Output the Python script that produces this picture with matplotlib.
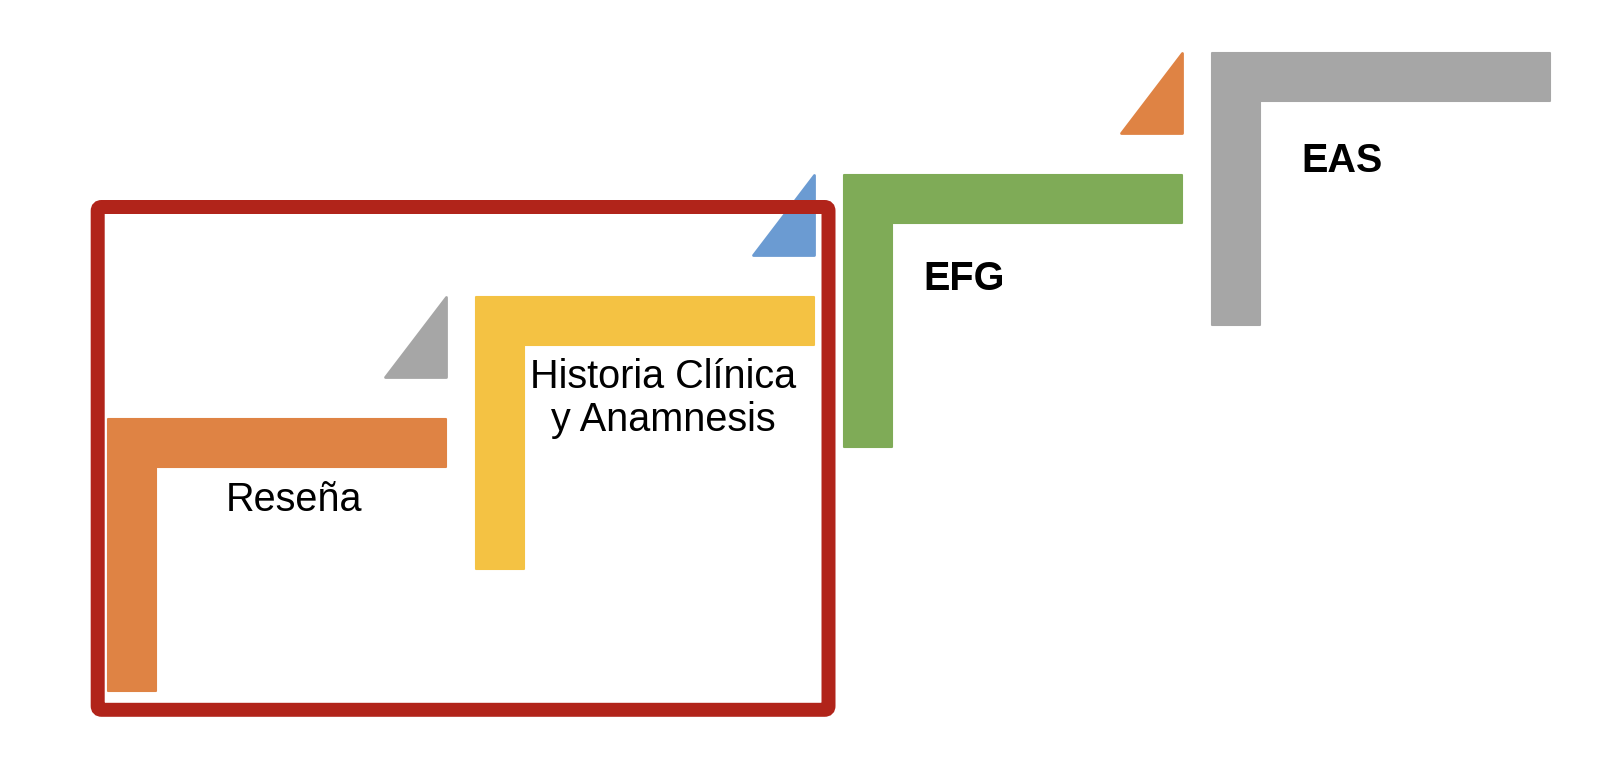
import matplotlib
matplotlib.use('Agg')
import matplotlib.pyplot as plt
from matplotlib.patches import Polygon, FancyBboxPatch

plt.rcParams['font.family'] = ['Liberation Sans', 'DejaVu Sans']

# Steps of the process (bottom-left to top-right)
labels = ['Reseña', 'Historia Clínica\ny Anamnesis', 'EFG', 'EAS']
bold = [False, False, True, True]
step_colors = ['#DF8344', '#F4C243', '#7FAB57', '#A6A6A6']
# Small triangles sitting between two steps
arrow_colors = ['#A6A6A6', '#6B9BD2', '#DF8344']
highlight = [0, 1]  # steps inside the red frame
frame_color = '#B1241A'

# Layout (pixels)
x_start, y_start = 107.5, 418.3
dx, dy = 368, -122
w, h, t = 339, 273.5, 49
tri_w, tri_h = 62, 81
# label anchor (centre x, baseline of last line) relative to step corner
label_off = [(186.5, 92.4), (187.5, 134.7), (120.5, 115.7), (130.5, 119.4)]

fig = plt.figure(figsize=(16.16, 7.57), dpi=100)
ax = fig.add_axes([0, 0, 1, 1])
ax.set_xlim(0, 1616)
ax.set_ylim(757, 0)
ax.axis('off')

pad = 0.75
origins = []
for i, (lab, col) in enumerate(zip(labels, step_colors)):
    x0 = x_start + i * dx
    y0 = y_start + i * dy
    origins.append((x0, y0))
    pts = [(x0 + pad, y0 + pad), (x0 + w - pad, y0 + pad), (x0 + w - pad, y0 + t - pad),
           (x0 + t - pad, y0 + t - pad), (x0 + t - pad, y0 + h - pad), (x0 + pad, y0 + h - pad)]
    ax.add_patch(Polygon(pts, closed=True, facecolor=col, edgecolor=col,
                         linewidth=1.5, joinstyle='round'))
    ox, oy = label_off[i]
    ax.text(x0 + ox, y0 + oy, lab, ha='center', va='baseline', multialignment='center',
            fontsize=28.5, fontweight='bold' if bold[i] else 'normal',
            linespacing=1.15, color='black')

for i, col in enumerate(arrow_colors):
    right = origins[i][0] + w - pad
    top = origins[i + 1][1] + pad
    pts = [(right, top), (right, top + tri_h - 2 * pad), (right - tri_w + 2 * pad, top + tri_h - 2 * pad)]
    ax.add_patch(Polygon(pts, closed=True, facecolor=col, edgecolor=col,
                         linewidth=2, joinstyle='round'))

# Red frame around the highlighted steps (stroke centre line)
lw_px = 14
fx0 = origins[highlight[0]][0] - 9.8
fx1 = origins[highlight[-1]][0] + w + 14
fy0 = origins[highlight[-1]][1] - 89.3
fy1 = origins[highlight[0]][1] + h + 18
frame = FancyBboxPatch((fx0, fy0), fx1 - fx0, fy1 - fy0,
                       boxstyle='round,pad=0,rounding_size=4',
                       facecolor='none', edgecolor=frame_color,
                       linewidth=lw_px * 72 / 100)
ax.add_patch(frame)

fig.savefig('out.png', dpi=100, facecolor='white')
